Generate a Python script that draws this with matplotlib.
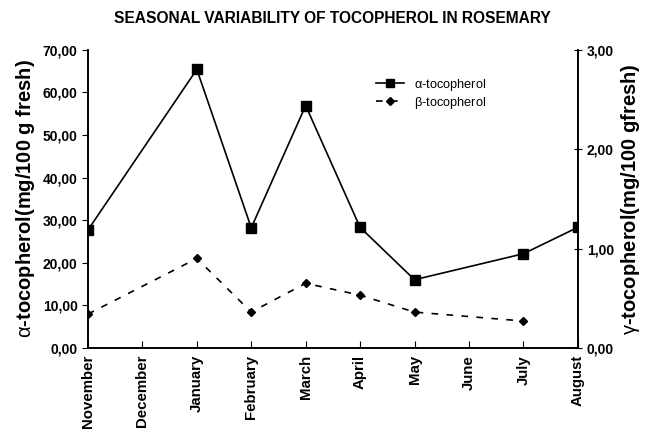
import numpy as np
import matplotlib.pyplot as plt
from matplotlib.ticker import FuncFormatter

plt.rcParams["font.family"] = ["Liberation Sans", "DejaVu Sans"]
plt.rcParams["mathtext.fontset"] = "custom"
plt.rcParams["mathtext.rm"] = "Liberation Sans"
plt.rcParams["mathtext.it"] = "Liberation Sans"

months = ["November", "December", "January", "February", "March",
          "April", "May", "June", "July", "August"]

alpha_months = ["November", "January", "February", "March", "April", "May", "July", "August"]
alpha_values = [27.7, 65.4, 28.2, 56.9, 28.3, 16.0, 22.1, 28.3]

beta_months = ["November", "January", "February", "March", "April", "May", "July"]
beta_values = [0.34, 0.90, 0.36, 0.65, 0.53, 0.36, 0.27]

alpha_x = [months.index(m) for m in alpha_months]
beta_x = [months.index(m) for m in beta_months]

comma = FuncFormatter(lambda v, p: f"{v:.2f}".replace(".", ","))

fig = plt.figure(figsize=(6.47, 4.37), dpi=100)
ax = fig.add_axes([0.136, 0.204, 0.757, 0.682])
ax2 = ax.twinx()

l1, = ax.plot(alpha_x, alpha_values, color="black", lw=1.2, marker="s",
              markersize=6.5, label=r"$\alpha$-tocopherol")
l2, = ax2.plot(beta_x, beta_values, color="black", lw=1.2, ls=(0, (4, 5)),
               marker="D", markersize=4.5, label=r"$\beta$-tocopherol")

ax.set_xlim(0, len(months) - 1)
ax.set_ylim(0, 70)
ax2.set_ylim(0, 3)
ax.set_yticks(np.arange(0, 71, 10))
ax2.set_yticks([0, 1, 2, 3])
ax.yaxis.set_major_formatter(comma)
ax2.yaxis.set_major_formatter(comma)

ax.set_xticks(range(len(months)))
ax.set_xticklabels(months, rotation=90, fontsize=10.8, fontweight="bold")
ax.tick_params(axis="x", direction="in", length=5, pad=5)
ax.tick_params(axis="y", direction="out", length=4, labelsize=10)
ax2.tick_params(axis="y", direction="inout", length=6, labelsize=10)
for lab in ax.get_yticklabels() + ax2.get_yticklabels():
    lab.set_fontweight("bold")

for a in (ax, ax2):
    a.spines["top"].set_visible(False)
    for s in ("left", "right", "bottom"):
        a.spines[s].set_linewidth(1.2)

ax.set_ylabel(r"$\alpha$-tocopherol(mg/100 g fresh)", fontsize=14.5, fontweight="bold")
ax2.set_ylabel(r"$\gamma$-tocopherol(mg/100 gfresh)", fontsize=14.5, fontweight="bold")

fig.suptitle("SEASONAL VARIABILITY OF TOCOPHEROL IN ROSEMARY",
             x=0.513, y=0.975, fontsize=11.2, fontweight="bold")

ax.legend(handles=[l1, l2], loc="upper left", bbox_to_anchor=(0.57, 0.94),
          frameon=False, fontsize=9.2, handlelength=2.2, labelspacing=0.15,
          borderpad=0.2, markerscale=0.85)

fig.savefig("out.png", dpi=100)
